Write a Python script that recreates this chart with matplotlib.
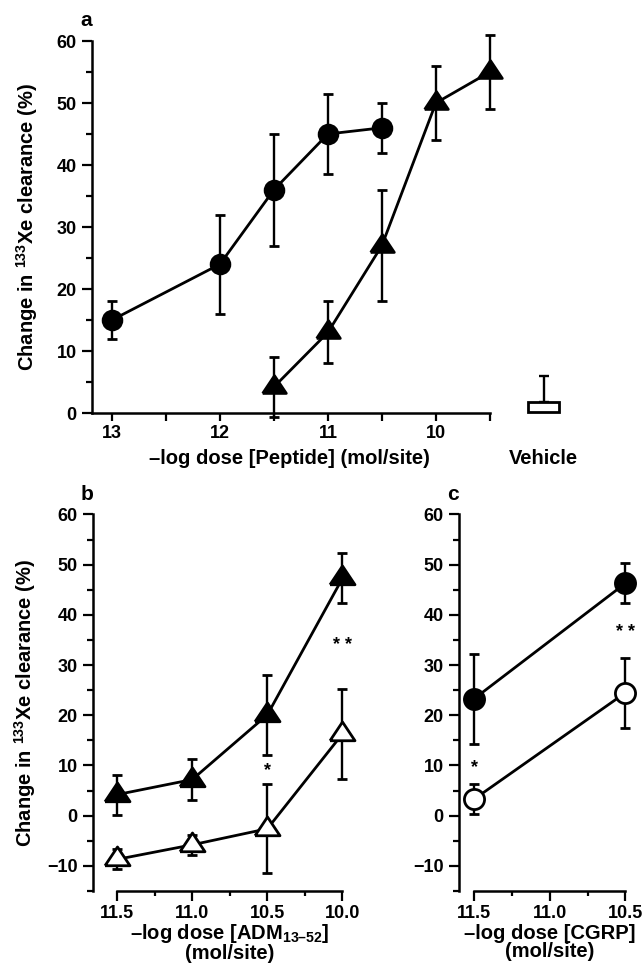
import matplotlib
matplotlib.use("Agg")
import matplotlib.pyplot as plt
from matplotlib.ticker import FixedLocator, MultipleLocator

plt.rcParams['font.family'] = ['Liberation Sans', 'DejaVu Sans']
plt.rcParams['font.weight'] = 'bold'
plt.rcParams['axes.labelweight'] = 'bold'
plt.rcParams['mathtext.fontset'] = 'custom'
plt.rcParams['mathtext.rm'] = 'Liberation Sans:bold'
plt.rcParams['mathtext.it'] = 'Liberation Sans:bold:italic'
plt.rcParams['mathtext.bf'] = 'Liberation Sans:bold'

# panel a: peptide dose response
a_circ_x = [13, 12, 11.5, 11, 10.5]
a_circ_y = [15, 24, 36, 45, 46]
a_circ_err = [3, 8, 9, 6.5, 4]
a_tri_x = [11.5, 11, 10.5, 10, 9.5]
a_tri_y = [4.2, 13, 27, 50, 55]
a_tri_err = [4.8, 5, 9, 6, 6]
vehicle_x = 9.0
vehicle_bottom = 0.15
vehicle_top = 1.8
vehicle_err = 4.2

# panel b: ADM 13-52
b_x = [11.5, 11.0, 10.5, 10.0]
b_filled_y = [4.2, 7.2, 20.1, 47.3]
b_filled_err = [4, 4, 8, 5]
b_open_y = [-8.7, -5.8, -2.6, 16.3]
b_open_err = [2, 2, 8.9, 9]
b_star_x = [10.5, 10.0]
b_star_y = [9, 34]
b_star_txt = ['*', '* *']

# panel c: CGRP
c_x = [11.5, 10.5]
c_filled_y = [23.3, 46.3]
c_filled_err = [9, 4]
c_open_y = [3.3, 24.5]
c_open_err = [3, 7]
c_star_x = [11.5, 10.5]
c_star_y = [9.5, 36.5]
c_star_txt = ['*', '* *']

W, H = 644, 968
fig = plt.figure(figsize=(W / 100, H / 100), dpi=100)

TRI = [(-1, -0.5), (1, -0.5), (0, 1.0), (-1, -0.5)]
LW = 2.0
ELW = 1.7
CAP = 3.6
TICKFS = 13
LABFS = 14.5


def px_axes(left, top, width, height):
    return fig.add_axes([left / W, 1 - (top + height) / H, width / W, height / H])


def style(ax):
    for s in ['top', 'right']:
        ax.spines[s].set_visible(False)
    for s in ['left', 'bottom']:
        ax.spines[s].set_linewidth(1.8)
    ax.tick_params(which='both', direction='out', width=1.6, labelsize=TICKFS, pad=3)
    ax.tick_params(axis='y', which='major', length=7, pad=4)
    ax.tick_params(axis='y', which='minor', length=4.3)


def series(ax, x, y, err, marker, ms, filled):
    ax.errorbar(x, y, yerr=err, fmt='-', color='black', lw=LW, elinewidth=ELW,
                capsize=CAP, capthick=ELW, marker=marker, ms=ms,
                mfc='black' if filled else 'white', mec='black', mew=2.0,
                clip_on=False, zorder=3)


# ---- panel a
ax = px_axes(92, 41, 495, 372)
style(ax)
ax.set_xlim(13.185, 8.6)
ax.set_ylim(0, 60)
ax.spines['bottom'].set_bounds(13.185, 9.5)
ax.xaxis.set_major_locator(FixedLocator([13, 12, 11, 10]))
ax.xaxis.set_minor_locator(FixedLocator([12.5, 11.5, 10.5, 9.5]))
ax.set_xticklabels(['13', '12', '11', '10'])
ax.tick_params(axis='x', which='both', length=5.8)
ax.yaxis.set_major_locator(MultipleLocator(10))
ax.yaxis.set_minor_locator(MultipleLocator(5))

series(ax, a_circ_x, a_circ_y, a_circ_err, 'o', 13.5, True)
series(ax, a_tri_x, a_tri_y, a_tri_err, TRI, 17, True)
ax.bar([vehicle_x], [vehicle_top - vehicle_bottom], bottom=vehicle_bottom, width=0.29,
       color='white', edgecolor='black', linewidth=2.0, clip_on=False, zorder=3)
ax.errorbar([vehicle_x], [vehicle_top], yerr=[[0], [vehicle_err]], fmt='none',
            ecolor='black', elinewidth=ELW, capsize=CAP, capthick=ELW, clip_on=False, zorder=2)
ax.text(vehicle_x, -0.121, 'Vehicle', transform=ax.get_xaxis_transform(),
        ha='center', va='center', fontsize=LABFS)

ax.set_xlabel('\u2013log dose [Peptide] (mol/site)', fontsize=LABFS)
ax.xaxis.set_label_coords(0.398, -0.121)
ax.xaxis.label.set_va('center')
ax.set_ylabel('Change in $^{133}$Xe clearance (%)', fontsize=LABFS)
ax.yaxis.set_label_coords(-0.131, 0.5)
ax.yaxis.label.set_va('center')

# ---- panel b
bx = px_axes(93, 514.5, 254, 376.5)
style(bx)
bx.set_xlim(11.66, 9.97)
bx.set_ylim(-15, 60)
bx.spines['bottom'].set_bounds(11.5, 10.0)
bx.xaxis.set_major_locator(FixedLocator(b_x))
bx.xaxis.set_minor_locator(FixedLocator([11.25, 10.75, 10.25]))
bx.set_xticklabels(['%.1f' % v for v in b_x])
bx.tick_params(axis='x', which='major', length=7)
bx.tick_params(axis='x', which='minor', length=3.6)
bx.set_yticks([-10, 0, 10, 20, 30, 40, 50, 60])
bx.yaxis.set_minor_locator(MultipleLocator(5))

series(bx, b_x, b_filled_y, b_filled_err, TRI, 18, True)
series(bx, b_x, b_open_y, b_open_err, TRI, 18, False)
for x, y, t in zip(b_star_x, b_star_y, b_star_txt):
    bx.text(x, y, t, ha='center', va='center', fontsize=13, fontweight='bold')

bx.set_xlabel('\u2013log dose [ADM$_{13\u201352}$]\n(mol/site)', fontsize=LABFS, linespacing=0.95)
bx.xaxis.set_label_coords(0.539, -0.137)
bx.xaxis.label.set_va('center')
bx.set_ylabel('Change in $^{133}$Xe clearance (%)', fontsize=LABFS)
bx.yaxis.set_label_coords(-0.268, 0.5)
bx.yaxis.label.set_va('center')

# ---- panel c
cx = px_axes(459, 514.5, 174, 376.5)
style(cx)
cx.set_xlim(11.6, 10.45)
cx.set_ylim(-15, 60)
cx.spines['bottom'].set_bounds(11.5, 10.5)
cx.xaxis.set_major_locator(FixedLocator([11.5, 11.0, 10.5]))
cx.xaxis.set_minor_locator(FixedLocator([11.25, 10.75]))
cx.set_xticklabels(['11.5', '11.0', '10.5'])
cx.tick_params(axis='x', which='major', length=7)
cx.tick_params(axis='x', which='minor', length=3.6)
cx.set_yticks([-10, 0, 10, 20, 30, 40, 50, 60])
cx.yaxis.set_minor_locator(MultipleLocator(5))

series(cx, c_x, c_filled_y, c_filled_err, 'o', 14.5, True)
series(cx, c_x, c_open_y, c_open_err, 'o', 14.5, False)
for x, y, t in zip(c_star_x, c_star_y, c_star_txt):
    cx.text(x, y, t, ha='center', va='center', fontsize=13, fontweight='bold')

cx.set_xlabel('\u2013log dose [CGRP]\n(mol/site)', fontsize=LABFS, linespacing=0.95)
cx.xaxis.set_label_coords(0.523, -0.137)
cx.xaxis.label.set_va('center')

for lab, x, y in [('a', 86, 20), ('b', 87, 495), ('c', 453, 495)]:
    fig.text(x / W, 1 - y / H, lab, fontsize=15, fontweight='bold', ha='center', va='center')

fig.savefig('out.png', dpi=100)
